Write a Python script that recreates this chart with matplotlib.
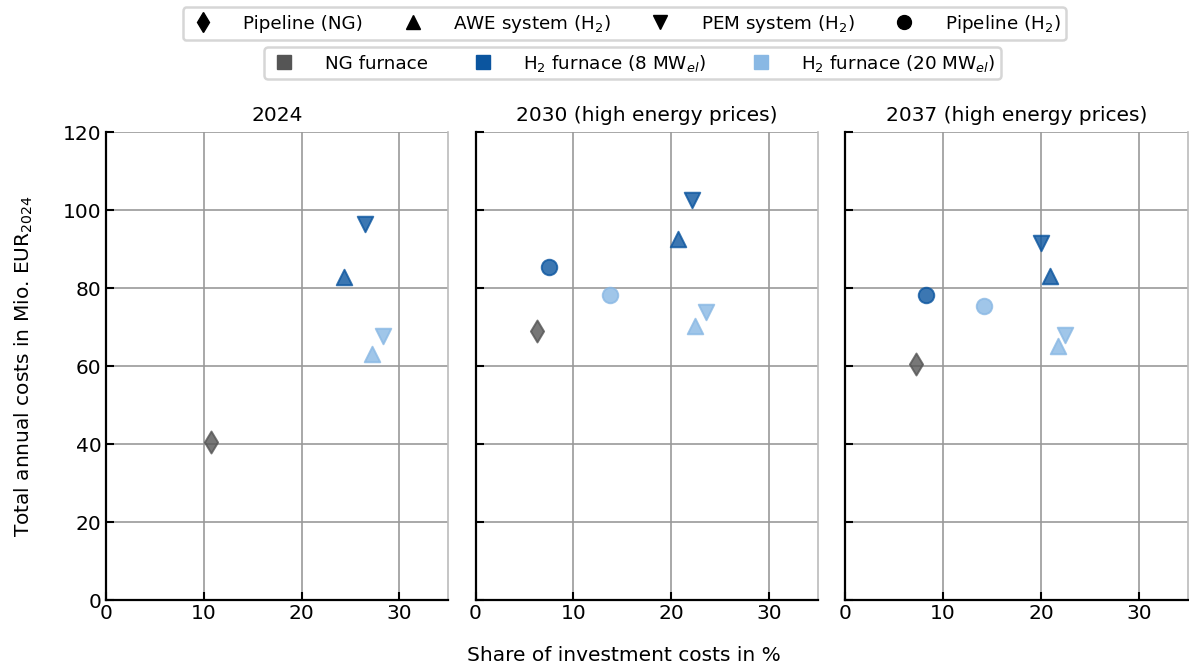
import numpy as np
import matplotlib.pyplot as plt
from matplotlib.lines import Line2D

plt.rcParams['font.family'] = 'DejaVu Sans'
plt.rcParams['font.size'] = 14

titles = ["2024", "2030 (high energy prices)", "2037 (high energy prices)"]

# (share of investment costs in %, total annual costs in Mio. EUR)
ng_pipe_x = [10.7, 6.3, 7.2]
ng_pipe_y = [40.5, 69.0, 60.5]

h2_pipe_8_x = [None, 7.5, 8.3]
h2_pipe_8_y = [None, 85.3, 78.2]
h2_pipe_20_x = [None, 13.7, 14.2]
h2_pipe_20_y = [None, 78.2, 75.4]

awe_8_x = [24.3, 20.7, 20.9]
awe_8_y = [82.8, 92.5, 83.2]
awe_20_x = [27.2, 22.4, 21.7]
awe_20_y = [63.2, 70.2, 65.2]

pem_8_x = [26.5, 22.1, 20.0]
pem_8_y = [96.5, 102.5, 91.5]
pem_20_x = [28.3, 23.5, 22.5]
pem_20_y = [67.8, 73.8, 68.0]

c_ng = '#555555'
c_8 = '#0b559f'
c_20 = '#89b8e4'

fig = plt.figure(figsize=(11.89, 6.65), dpi=100)
axs = fig.subplots(1, 3, sharey=True)
fig.subplots_adjust(left=0.089, right=0.999, top=0.8015, bottom=0.0977, wspace=0.079)


def pt(ax, x, y, m, c, s=125):
    if x is None:
        return
    ax.scatter([x], [y], marker=m, s=s, color=c, alpha=0.8, edgecolor=c, linewidth=1.4, zorder=3)


for i, ax in enumerate(axs):
    pt(ax, ng_pipe_x[i], ng_pipe_y[i], 'd', c_ng)
    pt(ax, h2_pipe_8_x[i], h2_pipe_8_y[i], 'o', c_8)
    pt(ax, h2_pipe_20_x[i], h2_pipe_20_y[i], 'o', c_20)
    pt(ax, awe_8_x[i], awe_8_y[i], '^', c_8)
    pt(ax, awe_20_x[i], awe_20_y[i], '^', c_20)
    pt(ax, pem_8_x[i], pem_8_y[i], 'v', c_8)
    pt(ax, pem_20_x[i], pem_20_y[i], 'v', c_20)

    ax.set_xlim(0, 35)
    ax.set_ylim(0, 120)
    ax.set_xticks([0, 10, 20, 30])
    ax.set_yticks([0, 20, 40, 60, 80, 100, 120])
    ax.grid(True, color='#999999', linewidth=1.2)
    ax.set_axisbelow(True)
    ax.tick_params(direction='in', length=6, width=1.5, labelsize=14.5, pad=3)
    ax.spines['top'].set_visible(False)
    ax.spines['right'].set_color('#bbbbbb')
    ax.spines['right'].set_linewidth(1.2)
    ax.spines['left'].set_linewidth(1.6)
    ax.spines['bottom'].set_linewidth(1.6)
    ax.set_title(titles[i], fontsize=14.5, pad=8)

axs[0].set_ylabel("Total annual costs in Mio. EUR$_{2024}$", fontsize=14.5, labelpad=20)
fig.text(0.525, 0.0, "Share of investment costs in %", ha='center', va='bottom', fontsize=14.5)

shape_handles = [
    Line2D([], [], marker='d', color='k', linestyle='', markersize=10),
    Line2D([], [], marker='^', color='k', linestyle='', markersize=10),
    Line2D([], [], marker='v', color='k', linestyle='', markersize=10),
    Line2D([], [], marker='o', color='k', linestyle='', markersize=10),
]
shape_labels = ["Pipeline (NG)", "AWE system (H$_2$)", "PEM system (H$_2$)", "Pipeline (H$_2$)"]
leg1 = fig.legend(shape_handles, shape_labels, loc='upper center', bbox_to_anchor=(0.525, 1.003),
                  ncol=4, fontsize=13.2, handletextpad=1.4, columnspacing=1.9, frameon=True,
                  borderpad=0.3, handlelength=1.6)
leg1.get_frame().set_linewidth(1.8)
leg1.get_frame().set_edgecolor('#cccccc')

color_handles = [
    Line2D([], [], marker='s', color=c_ng, linestyle='', markersize=10),
    Line2D([], [], marker='s', color=c_8, linestyle='', markersize=10),
    Line2D([], [], marker='s', color=c_20, linestyle='', markersize=10),
]
color_labels = ["NG furnace", "H$_2$ furnace (8 MW$_{el}$)", "H$_2$ furnace (20 MW$_{el}$)"]
leg2 = fig.legend(color_handles, color_labels, loc='upper center', bbox_to_anchor=(0.532, 0.943),
                  ncol=3, fontsize=13.2, handletextpad=1.4, columnspacing=2.2, frameon=True,
                  borderpad=0.3, handlelength=1.6)
leg2.get_frame().set_linewidth(1.8)
leg2.get_frame().set_edgecolor('#cccccc')

fig.savefig('out.png', dpi=100)
